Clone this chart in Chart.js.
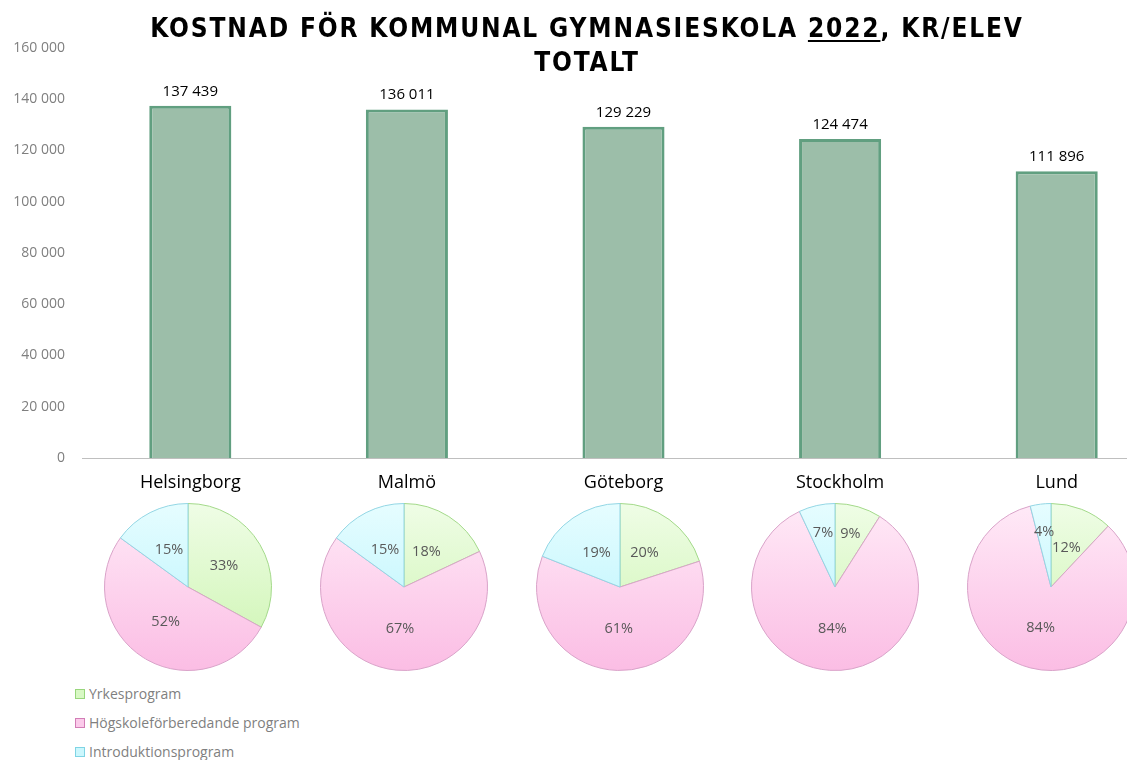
<!DOCTYPE html>
<html>
<head>
<meta charset="utf-8">
<script src="https://cdn.jsdelivr.net/npm/chart.js@4/dist/chart.umd.min.js"></script>
<style>
  html, body { margin: 0; padding: 0; background: #fff; overflow: hidden; width: 1127px; height: 760px; }
  #wrap { position: relative; width: 1127px; height: 760px; overflow: hidden; }
  #barBox { position: absolute; left: 0; top: 0; width: 1165px; height: 500px; }
  #title { position: absolute; left: 0; top: 11px; width: 1174px; text-align: center;
           font-family: "DejaVu Sans Condensed", "DejaVu Sans", sans-serif; font-stretch: condensed; font-weight: 700; font-size: 26px; line-height: 34px;
           letter-spacing: 1.85px; color: #000; }
  #title u { text-decoration-thickness: 2px; text-underline-offset: 3px; }
  .pieBox { position: absolute; width: 170px; height: 170px; }
  #legend { position: absolute; left: 75px; top: 681px; font-family: "Open Sans", sans-serif; font-size: 14px; color: #7f7f7f; }
  #legend .row { height: 29px; line-height: 26px; white-space: nowrap; }
  #legend .sq { display: inline-block; width: 8px; height: 8px; border: 1px solid; margin-right: 4px; vertical-align: 0px; }
</style>
</head>
<body>
<div id="wrap">
  <div id="barBox"><canvas id="bar"></canvas></div>
  <div id="title">KOSTNAD FÖR KOMMUNAL GYMNASIESKOLA <u>2022</u>, KR/ELEV<br>TOTALT</div>
  <div id="legend"></div>
</div>
<script>
// ---- data ----
const categories = ['Helsingborg', 'Malmö', 'Göteborg', 'Stockholm', 'Lund'];
const totals = [137439, 136011, 129229, 124474, 111896];
const programs = ['Yrkesprogram', 'Högskoleförberedande program', 'Introduktionsprogram'];
const yrkesShare = [33, 18, 20, 9, 12];
const hogskoleShare = [52, 67, 61, 84, 84];
const introShare = [15, 15, 19, 7, 4];
const yMin = 0;
const yMax = 160000;
const yStep = 20000;

// ---- styles ----
const FONT = '"Open Sans", sans-serif';
const sliceTop = ['#effde6', '#ffeaf7', '#e6fdff'];
const sliceBottom = ['#cbf4ae', '#fbbde4', '#b3f2fc'];
const sliceBorder = ['#a3d98a', '#d9a3c9', '#93d6e4'];
const legendFill = ['#d8f8c4', '#fbcaea', '#cbf7fd'];
const legendBorder = ['#98d67c', '#d27db6', '#7fd4e4'];

function fmt(n) {
  return String(n).replace(/\B(?=(\d{3})+(?!\d))/g, ' ');
}

const barLabels = {
  id: 'barLabels',
  afterDatasetsDraw(chart) {
    const ctx = chart.ctx;
    const meta = chart.getDatasetMeta(0);
    ctx.save();
    ctx.font = '15px ' + FONT;
    ctx.fillStyle = '#000';
    ctx.textAlign = 'center';
    ctx.textBaseline = 'bottom';
    meta.data.forEach((el, i) => {
      ctx.fillText(fmt(chart.data.datasets[0].data[i]), el.x, el.y - 7);
    });
    ctx.restore();
  }
};

const barChart = new Chart(document.getElementById('bar'), {
  type: 'bar',
  data: {
    labels: categories,
    datasets: [{
      data: totals,
      backgroundColor: '#9cbea9',
      borderColor: '#619f80',
      borderWidth: 3,
      barPercentage: 0.379,
      categoryPercentage: 1
    }]
  },
  options: {
    responsive: true,
    maintainAspectRatio: false,
    animation: false,
    layout: { padding: { top: 48, left: 0, right: 0, bottom: 0 } },
    plugins: { legend: { display: false }, tooltip: { enabled: false }, title: { display: false } },
    scales: {
      y: {
        min: yMin, max: yMax,
        ticks: { stepSize: yStep, callback: v => fmt(v), color: '#7f7f7f', font: { size: 14, family: FONT }, padding: 17 },
        grid: { display: false, drawTicks: false },
        border: { display: false },
        afterFit(s) { s.width = 82; }
      },
      x: {
        grid: { display: false, drawTicks: false },
        border: { display: true, color: '#bfbfbf', width: 1 },
        ticks: { color: '#000', font: { size: 18, family: FONT }, padding: 14 },
        afterFit(s) { s.height = 42; }
      }
    }
  },
  plugins: [barLabels]
});

// ---- pies ----
function sliceFill(c) {
  const i = c.dataIndex;
  const chart = c.chart;
  const a = chart.chartArea;
  if (!a || i === undefined) return sliceBottom[i || 0];
  const g = chart.ctx.createLinearGradient(0, a.top, 0, a.bottom);
  g.addColorStop(0, sliceTop[i]);
  g.addColorStop(1, sliceBottom[i]);
  return g;
}

const pieLabels = {
  id: 'pieLabels',
  afterDatasetsDraw(chart) {
    const ctx = chart.ctx;
    const meta = chart.getDatasetMeta(0);
    const vals = chart.data.datasets[0].data;
    ctx.save();
    ctx.font = '14.5px ' + FONT;
    ctx.fillStyle = '#595959';
    ctx.textAlign = 'center';
    ctx.textBaseline = 'middle';
    meta.data.forEach((arc, i) => {
      const p = arc.getProps(['x', 'y', 'startAngle', 'endAngle', 'outerRadius'], true);
      const mid = (p.startAngle + p.endAngle) / 2;
      const f = vals[i] < 10 ? 0.66 : 0.5;
      ctx.fillText(vals[i] + '%', p.x + Math.cos(mid) * p.outerRadius * f, p.y + Math.sin(mid) * p.outerRadius * f);
    });
    ctx.restore();
  }
};

const wrap = document.getElementById('wrap');
const xScale = barChart.scales.x;
categories.forEach((name, i) => {
  const box = document.createElement('div');
  box.className = 'pieBox';
  const cx = xScale.getPixelForValue(i);
  box.style.left = (cx - 87 - i) + 'px';
  box.style.top = (587 - 85) + 'px';
  const cv = document.createElement('canvas');
  box.appendChild(cv);
  wrap.appendChild(box);
  new Chart(cv, {
    type: 'pie',
    data: {
      labels: programs,
      datasets: [{
        data: [yrkesShare[i], hogskoleShare[i], introShare[i]],
        backgroundColor: sliceFill,
        borderColor: sliceBorder,
        borderWidth: 1
      }]
    },
    options: {
      responsive: true,
      maintainAspectRatio: false,
      animation: false,
      layout: { padding: 1 },
      plugins: { legend: { display: false }, tooltip: { enabled: false } }
    },
    plugins: [pieLabels]
  });
});

// ---- legend ----
const legend = document.getElementById('legend');
programs.forEach((p, i) => {
  const row = document.createElement('div');
  row.className = 'row';
  const sq = document.createElement('span');
  sq.className = 'sq';
  sq.style.background = legendFill[i];
  sq.style.borderColor = legendBorder[i];
  row.appendChild(sq);
  row.appendChild(document.createTextNode(p));
  legend.appendChild(row);
});
</script>
</body>
</html>
